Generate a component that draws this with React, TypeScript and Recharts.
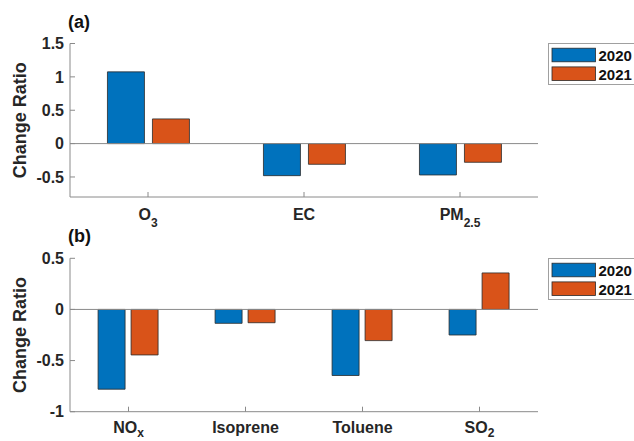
import React from "react";
import { BarChart, Bar, XAxis, YAxis, ReferenceLine, Legend, Label } from "recharts";

const categoriesA = ["O3", "EC", "PM2.5"];
const labelBaseA = ["O", "EC", "PM"];
const labelSubA = ["3", "", "2.5"];
const values2020A = [1.075, -0.48, -0.47];
const values2021A = [0.37, -0.31, -0.28];
const ticksA = [-0.5, 0, 0.5, 1, 1.5];
const domainA = [-0.8, 1.5];

const categoriesB = ["NOx", "Isoprene", "Toluene", "SO2"];
const labelBaseB = ["NO", "Isoprene", "Toluene", "SO"];
const labelSubB = ["x", "", "", "2"];
const values2020B = [-0.78, -0.136, -0.646, -0.25];
const values2021B = [-0.445, -0.13, -0.305, 0.357];
const ticksB = [-1, -0.5, 0, 0.5];
const domainB = [-1, 0.5];

const seriesNames = ["2020", "2021"];
const COLORS = ["#0072BD", "#D95319"];
const EDGE = "#2a2a2a";
const AX = "#8a8a8a";
const FONT = "'Liberation Sans', Arial, Helvetica, sans-serif";

const dataA = categoriesA.map((c, i) => ({
  name: c, base: labelBaseA[i], sub: labelSubA[i], y2020: values2020A[i], y2021: values2021A[i],
}));
const dataB = categoriesB.map((c, i) => ({
  name: c, base: labelBaseB[i], sub: labelSubB[i], y2020: values2020B[i], y2021: values2021B[i],
}));

function makeXTick(data: any[], baseDy: number, subDy: number) {
  return (props: any) => {
    const { x, y, payload } = props;
    const d = data.find((r) => r.name === payload.value) || { base: payload.value, sub: "" };
    return (
      <g>
        <line x1={x} x2={x} y1={y} y2={y - 5} stroke={AX} strokeWidth={1} />
        <text x={x} y={y + baseDy} textAnchor="middle" fontFamily={FONT} fontWeight="bold" fontSize={16} fill="#262626">
          {d.base}
          {d.sub ? (
            <tspan dy={subDy} fontSize={12}>{d.sub}</tspan>
          ) : null}
        </text>
      </g>
    );
  };
}

const YTick = (props: any) => {
  const { x, y, payload } = props;
  return (
    <g>
      <line x1={x} x2={x + 5} y1={y} y2={y} stroke={AX} strokeWidth={1} />
      <text x={x - 6} y={y + 5.7} textAnchor="end" fontFamily={FONT} fontWeight="bold" fontSize={16} fill="#262626">
        {payload.value}
      </text>
    </g>
  );
};

const YLabel = (props: any) => {
  const vb = props.viewBox || {};
  const cy = vb.y + vb.height / 2;
  const cx = 25.5;
  return (
    <text x={cx} y={cy} textAnchor="middle" transform={`rotate(-90, ${cx}, ${cy})`} fontFamily={FONT} fontWeight="bold" fontSize={18} fill="#262626">
      Change Ratio
    </text>
  );
};

const LegendBox = () => (
  <svg width={100} height={44} style={{ display: "block", overflow: "visible" }}>
    <rect x={0.5} y={0.5} width={96} height={41} fill="#fff" stroke="#a0a0a0" strokeWidth={1} />
    {seriesNames.map((s, i) => (
      <g key={s}>
        <rect x={4} y={5.2 + i * 18.7} width={43.5} height={13.6} fill={COLORS[i]} stroke={EDGE} strokeWidth={0.8} />
        <text x={50.5} y={18.4 + i * 18.7} fontFamily={FONT} fontWeight="bold" fontSize={15} fill="#111">
          {s}
        </text>
      </g>
    ))}
  </svg>
);

function Panel(props: {
  data: any[]; ticks: number[]; domain: number[]; height: number; top: number; bottomAxis: number;
  barGap: number; legendTop: number; letter: string; letterTop: number; baseDy: number; subDy: number;
}) {
  const { data, ticks, domain, height, top, bottomAxis, barGap, legendTop, letter, letterTop, baseDy, subDy } = props;
  return (
    <div style={{ position: "absolute", left: 0, top: 0, width: 634, height: height }}>
      <div style={{ position: "absolute", left: 68, top: letterTop, fontFamily: FONT, fontWeight: "bold", fontSize: 18, color: "#111", lineHeight: "20px" }}>
        {letter}
      </div>
      <div style={{ position: "absolute", left: 0, top: 0 }}>
        <BarChart
          width={634}
          height={height}
          data={data}
          margin={{ top: top, right: 96, left: 8, bottom: 0 }}
          barCategoryGap="24%"
          barGap={barGap}
          style={{ overflow: "visible" }}
        >
          <XAxis
            dataKey="name"
            xAxisId="bottom"
            orientation="bottom"
            height={bottomAxis}
            tickSize={0}
            tickMargin={0}
            tickLine={false}
            axisLine={{ stroke: AX, strokeWidth: 1 }}
            tick={makeXTick(data, baseDy, subDy)}
            interval={0}
          />
          <XAxis
            dataKey="name"
            xAxisId="top"
            orientation="top"
            mirror
            height={0}
            tick={false}
            tickSize={5}
            tickLine={{ stroke: AX, strokeWidth: 1 }}
            axisLine={{ stroke: AX, strokeWidth: 1 }}
            interval={0}
          />
          <YAxis
            yAxisId="left"
            type="number"
            domain={domain}
            ticks={ticks}
            allowDataOverflow
            width={62}
            tickSize={0}
            tickMargin={0}
            tickLine={false}
            axisLine={{ stroke: AX, strokeWidth: 1 }}
            tick={YTick}
            interval={0}
          >
            <Label content={YLabel} />
          </YAxis>
          <YAxis
            yAxisId="right"
            orientation="right"
            type="number"
            domain={domain}
            ticks={ticks}
            allowDataOverflow
            mirror
            width={0}
            tick={false}
            tickSize={5}
            tickLine={{ stroke: AX, strokeWidth: 1 }}
            axisLine={{ stroke: AX, strokeWidth: 1 }}
            interval={0}
          />
          <ReferenceLine y={0} xAxisId="bottom" yAxisId="left" stroke={AX} strokeWidth={1} />
          <Legend
            layout="vertical"
            align="center"
            verticalAlign="middle"
            content={LegendBox}
            wrapperStyle={{ position: "absolute", left: 548, top: legendTop, width: 100, height: 44, margin: 0 }}
          />
          <Bar dataKey="y2020" name={seriesNames[0]} xAxisId="bottom" yAxisId="left" fill={COLORS[0]} stroke={EDGE} strokeWidth={0.8} isAnimationActive={false} />
          <Bar dataKey="y2021" name={seriesNames[1]} xAxisId="bottom" yAxisId="left" fill={COLORS[1]} stroke={EDGE} strokeWidth={0.8} isAnimationActive={false} />
        </BarChart>
      </div>
    </div>
  );
}

export default function App() {
  return (
    <div style={{ position: "absolute", left: 0, top: 0, width: 634, height: 441, background: "#fff", overflow: "hidden" }}>
      <Panel data={dataA} ticks={ticksA} domain={domainA} height={230} top={43.5} bottomAxis={33} barGap={8} legendTop={43} letter="(a)" letterTop={12} baseDy={23} subDy={7} />
      <div style={{ position: "absolute", left: 0, top: 230, width: 634, height: 211 }}>
        <Panel data={dataB} ticks={ticksB} domain={domainB} height={211} top={28.3} bottomAxis={29.3} barGap={6} legendTop={27.7} letter="(b)" letterTop={-4} baseDy={21.5} subDy={4} />
      </div>
    </div>
  );
}
